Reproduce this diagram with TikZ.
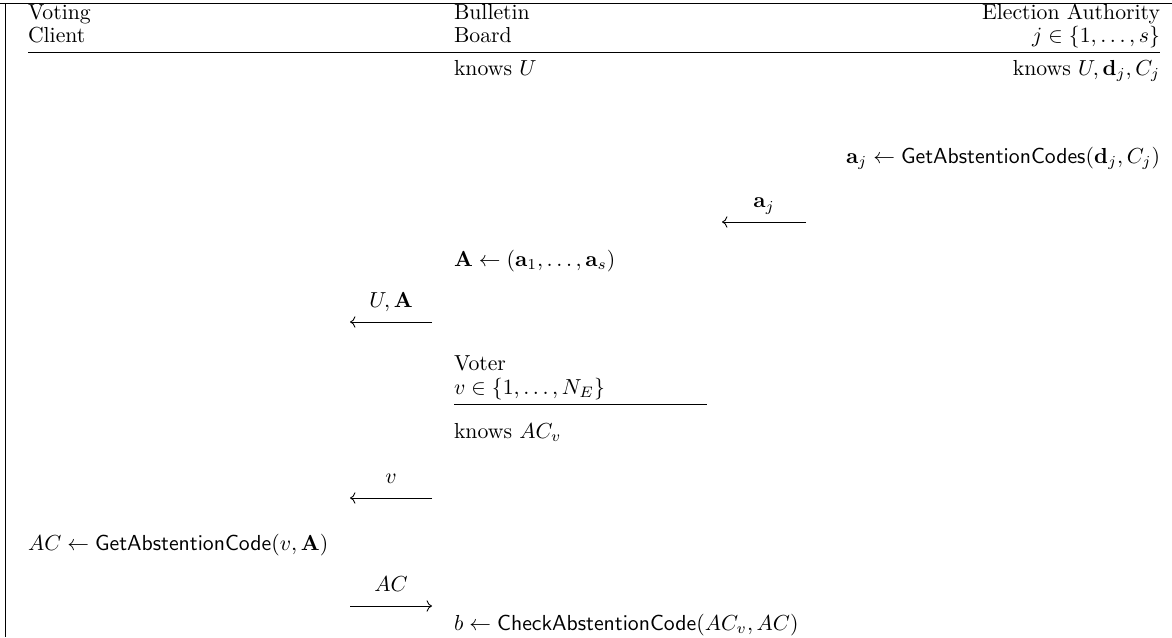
\documentclass[tikz,border=0pt]{standalone}
\usepackage{amsmath}
\usepackage{amssymb}
\usetikzlibrary{arrows.meta, positioning}

\begin{document}
\begin{tikzpicture}[
    x=0.46pt, y=-0.46pt,
    >={To},
    every node/.style={inner sep=0pt, outer sep=0pt},
    lefttext/.style={anchor=base west},
    righttext/.style={anchor=base east},
    msglabel/.style={anchor=base, midway, yshift=6.5pt},
    msg/.style={->, line width=0.4pt}
]
    \useasboundingbox (0,0) rectangle (1172,637);
    % frame
    \draw (0,3) -- (1172,3);
    \draw (5,3) -- (5,637);

    % parties
    \node[lefttext] (client1) at (28,19) {Voting};
    \node[lefttext] (client2) at (28,42) {Client};
    \node[lefttext] (board1) at (454,19) {Bulletin};
    \node[lefttext] (board2) at (454,42) {Board};
    \node[righttext] (auth1) at (1160,19) {Election Authority};
    \node[righttext] (auth2) at (1160,42) {$j \in \{1,\dots,s\}$};
    \coordinate (hdrL) at (28,52);
    \coordinate (hdrR) at (1160,52);
    \draw (hdrL) -- (hdrR);

    \node[lefttext] (boardknows) at (454,75) {knows $U$};
    \node[righttext] (authknows) at (1160,75) {knows $U, \mathbf{d}_j, C_j$};

    % election authority
    \node[righttext] (getcodes) at (1160,163) {$\mathbf{a}_j \leftarrow \mathsf{GetAbstentionCodes}(\mathbf{d}_j, C_j)$};
    \coordinate (aFrom) at (806,222);
    \coordinate (aTo) at (722,222);
    \draw[msg] (aFrom) -- (aTo) node[msglabel] (aLbl) {$\mathbf{a}_j$};

    % bulletin board
    \node[lefttext] (collect) at (454,266) {$\mathbf{A} \leftarrow (\mathbf{a}_1,\dots,\mathbf{a}_s)$};
    \coordinate (uaFrom) at (432,322);
    \coordinate (uaTo) at (350,322);
    \draw[msg] (uaFrom) -- (uaTo) node[msglabel] (uaLbl) {$U, \mathbf{A}$};

    % voter
    \node[lefttext] (voter1) at (454,370) {Voter};
    \node[lefttext] (voter2) at (454,394) {$v \in \{1,\dots,N_E\}$};
    \coordinate (vtrL) at (454,404);
    \coordinate (vtrR) at (707,404);
    \draw (vtrL) -- (vtrR);
    \node[lefttext] (voterknows) at (454,438) {knows $AC_v$};
    \coordinate (vFrom) at (432,498);
    \coordinate (vTo) at (350,498);
    \draw[msg] (vFrom) -- (vTo) node[msglabel] (vLbl) {$v$};

    % voting client
    \node[lefttext] (getcode) at (28,550) {$AC \leftarrow \mathsf{GetAbstentionCode}(v, \mathbf{A})$};
    \coordinate (acFrom) at (350,606);
    \coordinate (acTo) at (432,606);
    \draw[msg] (acFrom) -- (acTo) node[msglabel] (acLbl) {$AC$};

    \node[lefttext] (check) at (454,630) {$b \leftarrow \mathsf{CheckAbstentionCode}(AC_v, AC)$};
\end{tikzpicture}
\end{document}
